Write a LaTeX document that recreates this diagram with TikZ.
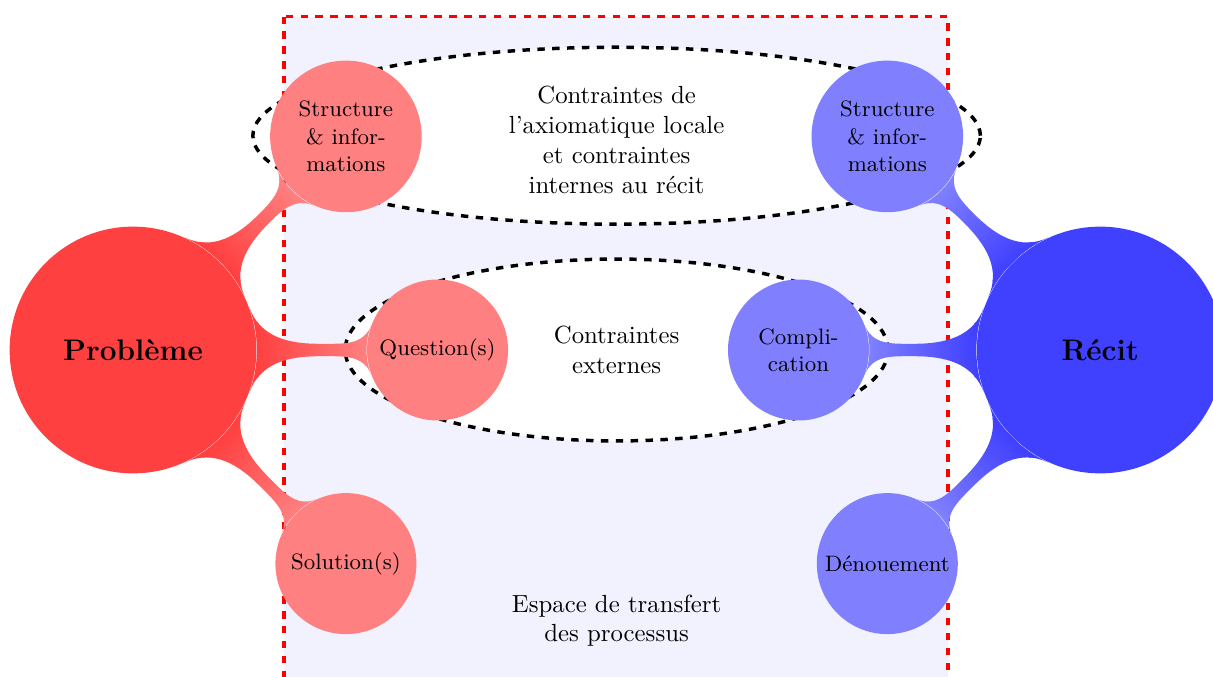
\documentclass[tikz,border=0pt]{standalone}
\usetikzlibrary{mindmap}

\tikzset{
  idee/.style={circle,minimum size=2cm,inner sep=1pt,align=center,font=\small,text=black},
  racine/.style={idee,minimum size=3.5cm,font=\large\bfseries},
  zone/.style={dashed,line width=1.4pt,red,fill=blue!5},
  contrainte/.style={dashed,line width=1.4pt,black,fill=white},
}

\begin{document}
\begin{tikzpicture}
  \useasboundingbox (-1.887,-4.638) rectangle (15.32,4.965);
  \clip (-1.887,-4.638) rectangle (15.32,4.965);
  % espace de transfert et zones de contraintes
  \draw[zone] (2.14,4.73) rectangle (11.56,-5);
  \draw[contrainte] (6.86,3.04) ellipse (5.16 and 1.255);
  \draw[contrainte] (6.86,0) ellipse (3.85 and 1.29);
  \node[align=center] (axiome) at (6.86,2.98) {Contraintes de\\l’axiomatique locale\\et contraintes\\internes au récit};
  \node[align=center] (externes) at (6.86,0) {Contraintes\\externes};
  \node[align=center] (transfert) at (6.86,-3.84) {Espace de transfert\\des processus};
  % probleme
  \node[racine,fill=red!75] (probleme) at (0,0) {Problème};
  \node[idee,fill=red!50,minimum size=2.15cm] (structP) at (3.02,3.03) {Structure\\\& infor-\\mations};
  \node[idee,fill=red!50] (questionP) at (4.32,0) {Question(s)};
  \node[idee,fill=red!50] (solutionP) at (3.02,-3.03) {Solution(s)};
  \path (probleme) to[circle connection bar switch color=from (red!75) to (red!50)] (structP);
  \path (probleme) to[circle connection bar switch color=from (red!75) to (red!50)] (questionP);
  \path (probleme) to[circle connection bar switch color=from (red!75) to (red!50)] (solutionP);
  % recit
  \node[racine,fill=blue!75] (recit) at (13.72,0) {Récit};
  \node[idee,fill=blue!50,minimum size=2.15cm] (structR) at (10.70,3.03) {Structure\\\& infor-\\mations};
  \node[idee,fill=blue!50] (complicR) at (9.44,0) {Compli-\\cation};
  \node[idee,fill=blue!50,inner sep=0pt] (denouementR) at (10.70,-3.03) {Dénouement};
  \path (recit) to[circle connection bar switch color=from (blue!75) to (blue!50)] (structR);
  \path (recit) to[circle connection bar switch color=from (blue!75) to (blue!50)] (complicR);
  \path (recit) to[circle connection bar switch color=from (blue!75) to (blue!50)] (denouementR);
\end{tikzpicture}
\end{document}
